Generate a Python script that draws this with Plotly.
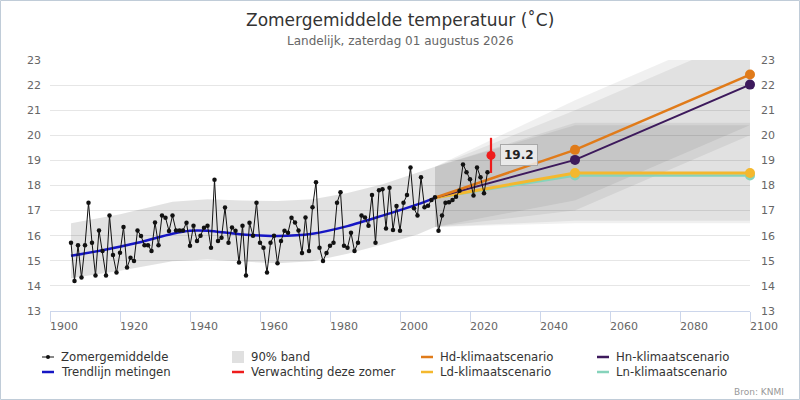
import plotly.graph_objects as go

# ---------------- data ----------------
years = list(range(1906, 2026))
summer_temp = [
    15.72, 14.20, 15.62, 14.33, 15.62, 17.31, 15.72, 14.41, 16.21, 15.39,  # 1906-1915
    14.41, 16.80, 15.23, 14.53, 15.32, 16.35, 14.73, 15.12, 14.99, 16.21,  # 1916-1925
    15.99, 15.62, 15.62, 15.39, 16.53, 15.62, 16.80, 16.72, 16.19, 16.80,  # 1926-1935
    16.21, 16.21, 16.21, 16.52, 15.60, 16.40, 15.79, 16.00, 16.32, 16.40,  # 1936-1945
    15.52, 18.23, 15.79, 15.92, 17.12, 15.72, 16.33, 16.20, 14.93, 16.40,  # 1946-1955
    14.41, 16.52, 16.00, 17.31, 15.72, 15.52, 14.53, 15.72, 16.00, 14.90,  # 1956-1965
    15.79, 16.20, 16.12, 16.72, 16.53, 16.21, 15.31, 16.73, 15.39, 17.13,  # 1966-1975
    18.13, 15.52, 14.99, 15.31, 15.60, 15.72, 17.31, 17.73, 15.60, 15.52,  # 1976-1985
    16.12, 15.39, 15.72, 16.80, 16.73, 16.40, 17.62, 15.72, 17.81, 17.85,  # 1986-1995
    16.29, 17.91, 16.23, 17.18, 16.20, 17.31, 17.62, 18.72, 17.09, 16.80,  # 1996-2005
    18.33, 17.13, 17.19, 17.42, 17.53, 16.20, 16.80, 17.31, 17.33, 17.42,  # 2006-2015
    17.55, 17.79, 18.84, 18.53, 18.25, 17.60, 18.72, 18.33, 17.69, 18.53,  # 2016-2025
]

trend_years = [1906, 1915, 1925, 1935, 1940, 1945, 1955, 1965, 1975, 1985, 1995, 2005, 2010]
trend_vals = [15.20, 15.42, 15.72, 16.08, 16.20, 16.20, 16.05, 15.99, 16.08, 16.38, 16.80, 17.25, 17.51]

band_years = [1906, 1920, 1935, 1945, 1955, 1965, 1975, 1985, 1995, 2005, 2010]
band_upper = [16.50, 16.85, 17.35, 17.45, 17.40, 17.38, 17.45, 17.70, 18.05, 18.50, 18.75]
band_lower = [14.30, 14.60, 14.98, 15.05, 14.97, 14.90, 14.98, 15.28, 15.65, 16.05, 16.35]

scen_years = [2010, 2050, 2100]
hd_vals = [17.51, 19.42, 22.42]
hn_vals = [17.51, 19.02, 22.02]
ld_vals = [17.51, 18.50, 18.50]
ln_vals = [17.51, 18.40, 18.40]
hd_upper = [18.75, 21.40, 24.40]
hd_lower = [16.35, 17.40, 20.40]
hn_upper = [18.75, 21.00, 24.00]
hn_lower = [16.35, 17.00, 20.00]
ld_upper = [18.75, 20.50, 20.50]
ld_lower = [16.35, 16.60, 16.60]
ln_upper = [18.75, 20.40, 20.40]
ln_lower = [16.35, 16.50, 16.50]

forecast_year = [2026]
forecast_val = [19.2]
forecast_err = [0.7]

x_ticks = list(range(1900, 2101, 20))
y_ticks = list(range(13, 24))

legend_labels = ["Zomergemiddelde", "90% band", "Hd-klimaatscenario", "Hn-klimaatscenario",
                 "Trendlijn metingen", "Verwachting deze zomer", "Ld-klimaatscenario", "Ln-klimaatscenario"]

# ---------------- styling ----------------
W, H = 800, 400
ML, MR, MT, MB = 50, 50, 60, 89
PW, PH = W - ML - MR, H - MT - MB
FONT = "DejaVu Sans"

C_DATA = "#111111"
C_TREND = "#1616c4"
C_RED = "#ee1c1c"
C_HD = "#e07b1a"
C_HN = "#3d1a5c"
C_LD = "#f4b82e"
C_LN = "#86d3bb"
SCEN_FILL = "rgba(0,0,0,0.058)"
BAND_FILL = "rgba(0,0,0,0.115)"


def px_x(p):
    return (p - ML) / PW


def px_y(p):
    return (MT + PH - p) / PH


fig = go.Figure()

# scenario uncertainty bands
for up, lo in [(hd_upper, hd_lower), (hn_upper, hn_lower), (ld_upper, ld_lower), (ln_upper, ln_lower)]:
    fig.add_trace(go.Scatter(
        x=scen_years + scen_years[::-1], y=up + lo[::-1],
        fill="toself", fillcolor=SCEN_FILL, mode="lines", line=dict(width=0),
        hoverinfo="skip"))

# 90% band of measurements
fig.add_trace(go.Scatter(
    x=band_years + band_years[::-1], y=band_upper + band_lower[::-1],
    fill="toself", fillcolor=BAND_FILL, mode="lines", line=dict(width=0),
    name="90% band", hoverinfo="skip"))

# scenario lines and markers
scen = [("Ln-klimaatscenario", ln_vals, C_LN, 2.5),
        ("Ld-klimaatscenario", ld_vals, C_LD, 3),
        ("Hn-klimaatscenario", hn_vals, C_HN, 2),
        ("Hd-klimaatscenario", hd_vals, C_HD, 2.5)]
for name, vals, col, lw in scen:
    fig.add_trace(go.Scatter(x=scen_years, y=vals, mode="lines", line=dict(color=col, width=lw), name=name))
    fig.add_trace(go.Scatter(x=scen_years[1:], y=vals[1:], mode="markers",
                             marker=dict(color=col, size=10), yaxis="y2", cliponaxis=False, name=name))

# trend line
fig.add_trace(go.Scatter(x=trend_years, y=trend_vals, mode="lines",
                         line=dict(color=C_TREND, width=2.5, shape="spline", smoothing=0.8),
                         name="Trendlijn metingen"))

# summer means
fig.add_trace(go.Scatter(x=years, y=summer_temp, mode="lines+markers",
                         line=dict(color=C_DATA, width=1), marker=dict(color=C_DATA, size=4.5),
                         name="Zomergemiddelde"))

# forecast
fig.add_trace(go.Scatter(x=forecast_year, y=forecast_val, mode="markers",
                         marker=dict(color=C_RED, size=9),
                         error_y=dict(type="data", array=forecast_err, color=C_RED, thickness=2.2, width=0),
                         name="Verwachting deze zomer"))

fig.add_annotation(x=forecast_year[0], y=forecast_val[0], text="<b>%.1f</b>" % forecast_val[0],
                   showarrow=False, xanchor="left", xshift=9,
                   font=dict(family=FONT, size=12, color="#222"),
                   bgcolor="rgba(238,238,238,0.85)", bordercolor="#a8a8a8", borderwidth=1, borderpad=3)

# titles
fig.add_annotation(xref="paper", yref="paper", x=0.5, y=px_y(20), yanchor="middle",
                   text="Zomergemiddelde temperatuur (˚C)", showarrow=False,
                   font=dict(family=FONT, size=17, color="#333333"))
fig.add_annotation(xref="paper", yref="paper", x=0.5, y=px_y(41), yanchor="middle",
                   text="Landelijk, zaterdag 01 augustus 2026", showarrow=False,
                   font=dict(family=FONT, size=12, color="#666666"))
fig.add_annotation(xref="paper", yref="paper", x=px_x(786), y=px_y(392), xanchor="right", yanchor="middle",
                   text="Bron: KNMI", showarrow=False,
                   font=dict(family=FONT, size=9, color="#999999"))

# manual legend (Highcharts style)
col_text_x = [59, 249, 438, 614]
row_y = [357, 372]
leg_kind = ["dotline", "box", C_HD, C_HN, C_TREND, C_RED, C_LD, C_LN]
for i, label in enumerate(legend_labels):
    r, c = divmod(i, 4)
    tx, ty = col_text_x[c], row_y[r]
    kind = leg_kind[i]
    if kind == "box":
        fig.add_shape(type="rect", xref="paper", yref="paper",
                      x0=px_x(tx - 17), x1=px_x(tx - 5), y0=px_y(ty + 6), y1=px_y(ty - 6),
                      fillcolor="#e0e0e0", line=dict(width=0))
    elif kind == "dotline":
        fig.add_shape(type="line", xref="paper", yref="paper",
                      x0=px_x(tx - 17), x1=px_x(tx - 5), y0=px_y(ty), y1=px_y(ty),
                      line=dict(color=C_DATA, width=1))
        fig.add_shape(type="circle", xref="paper", yref="paper",
                      x0=px_x(tx - 13), x1=px_x(tx - 9), y0=px_y(ty + 2), y1=px_y(ty - 2),
                      fillcolor=C_DATA, line=dict(width=0))
    else:
        fig.add_shape(type="line", xref="paper", yref="paper",
                      x0=px_x(tx - 17), x1=px_x(tx - 5), y0=px_y(ty), y1=px_y(ty),
                      line=dict(color=kind, width=2.5))
    fig.add_annotation(xref="paper", yref="paper", x=px_x(tx), y=px_y(ty), xanchor="left",
                       yanchor="middle", text=label, showarrow=False,
                       font=dict(family=FONT, size=11.7, color="#333333"))

# outer border
fig.add_shape(type="rect", xref="paper", yref="paper",
              x0=px_x(0.5), x1=px_x(799.5), y0=px_y(399.5), y1=px_y(0.5),
              line=dict(color="#c0ccd8", width=1), layer="below")

fig.update_layout(
    width=W, height=H, autosize=False,
    margin=dict(l=ML, r=MR, t=MT, b=MB),
    paper_bgcolor="white", plot_bgcolor="white",
    font=dict(family=FONT, size=12, color="#333"),
    showlegend=False,
    xaxis=dict(range=[1900, 2100], tickvals=x_ticks, ticks="outside", ticklen=10,
               tickcolor="#ccd6eb", showline=True, linecolor="#ccd6eb", showgrid=False,
               zeroline=False, tickfont=dict(family=FONT, size=11, color="#666666"),
               ticklabelshift=14, ticklabelstandoff=-5, automargin=False),
    yaxis=dict(range=[13, 23], tickvals=y_ticks, showgrid=True, gridcolor="#e6e6e6",
               zeroline=False, showline=False, tickfont=dict(family=FONT, size=11, color="#666666"),
               ticklabelstandoff=8, automargin=False),
    yaxis2=dict(range=[13, 23], tickvals=y_ticks, overlaying="y", side="right", showgrid=False,
                zeroline=False, showline=False, tickfont=dict(family=FONT, size=11, color="#666666"),
                ticklabelstandoff=10, automargin=False),
)

fig.write_html("out.html", config={"displayModeBar": False},
               post_script="document.body.style.margin='0';document.body.style.padding='0';")
